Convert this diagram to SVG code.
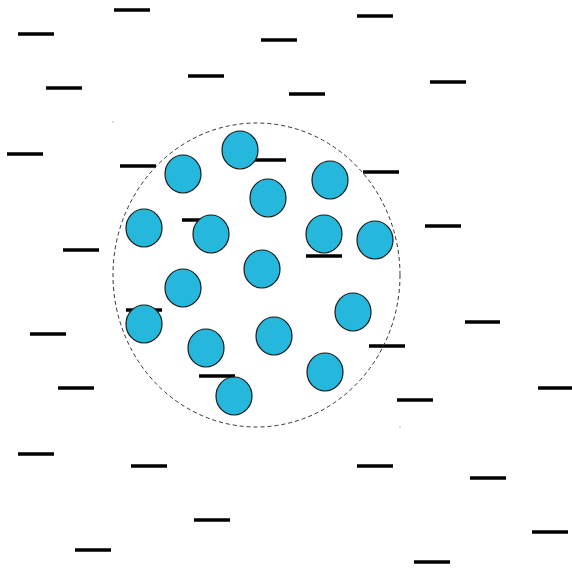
<svg xmlns="http://www.w3.org/2000/svg" width="572" height="569" viewBox="0 0 572 569">
<style>
.d{stroke:#000;stroke-width:3.5}
.c{fill:#25b8dc;stroke:#1a1a1a;stroke-width:1.2}
.b{fill:none;stroke:#333;stroke-width:1;stroke-dasharray:4 3}
.p{fill:#777}
</style>
<rect width="572" height="569" fill="#fff"/>
<g id="dashes">
<line class="d" x1="114" y1="10" x2="150" y2="10"/>
<line class="d" x1="18" y1="34" x2="54" y2="34"/>
<line class="d" x1="261" y1="40" x2="297" y2="40"/>
<line class="d" x1="357" y1="16" x2="393" y2="16"/>
<line class="d" x1="188" y1="76" x2="224" y2="76"/>
<line class="d" x1="46" y1="88" x2="82" y2="88"/>
<line class="d" x1="289" y1="94" x2="325" y2="94"/>
<line class="d" x1="430" y1="82" x2="466" y2="82"/>
<line class="d" x1="7" y1="154" x2="43" y2="154"/>
<line class="d" x1="120" y1="166" x2="156" y2="166"/>
<line class="d" x1="250" y1="160" x2="286" y2="160"/>
<line class="d" x1="363" y1="172" x2="399" y2="172"/>
<line class="d" x1="182" y1="220" x2="218" y2="220"/>
<line class="d" x1="306" y1="256" x2="342" y2="256"/>
<line class="d" x1="425" y1="226" x2="461" y2="226"/>
<line class="d" x1="63" y1="250" x2="99" y2="250"/>
<line class="d" x1="126" y1="310" x2="162" y2="310"/>
<line class="d" x1="30" y1="334" x2="66" y2="334"/>
<line class="d" x1="465" y1="322" x2="500" y2="322"/>
<line class="d" x1="369" y1="346" x2="405" y2="346"/>
<line class="d" x1="199" y1="376" x2="235" y2="376"/>
<line class="d" x1="58" y1="388" x2="94" y2="388"/>
<line class="d" x1="538" y1="388" x2="572" y2="388"/>
<line class="d" x1="397" y1="400" x2="433" y2="400"/>
<line class="d" x1="18" y1="454" x2="54" y2="454"/>
<line class="d" x1="131" y1="466" x2="167" y2="466"/>
<line class="d" x1="357" y1="466" x2="393" y2="466"/>
<line class="d" x1="470" y1="478" x2="506" y2="478"/>
<line class="d" x1="194" y1="520" x2="230" y2="520"/>
<line class="d" x1="532" y1="532" x2="568" y2="532"/>
<line class="d" x1="75" y1="550" x2="111" y2="550"/>
<line class="d" x1="414" y1="562" x2="450" y2="562"/>
</g>
<g id="boundary">
<ellipse class="b" cx="256.5" cy="275" rx="143.5" ry="152"/>
<rect class="p" x="112.5" y="121.5" width="1" height="1"/>
<rect class="p" x="399.5" y="426.5" width="1" height="1"/>
</g>
<g id="particles">
<ellipse class="c" cx="183" cy="174" rx="18" ry="19"/>
<ellipse class="c" cx="240" cy="150" rx="18" ry="19"/>
<ellipse class="c" cx="268" cy="198" rx="18" ry="19"/>
<ellipse class="c" cx="330" cy="180" rx="18" ry="19"/>
<ellipse class="c" cx="144" cy="228" rx="18" ry="19"/>
<ellipse class="c" cx="211" cy="234" rx="18" ry="19"/>
<ellipse class="c" cx="324" cy="234" rx="18" ry="19"/>
<ellipse class="c" cx="375" cy="240" rx="18" ry="19"/>
<ellipse class="c" cx="262" cy="269" rx="18" ry="19"/>
<ellipse class="c" cx="183" cy="288" rx="18" ry="19"/>
<ellipse class="c" cx="353" cy="312" rx="18" ry="19"/>
<ellipse class="c" cx="144" cy="324" rx="18" ry="19"/>
<ellipse class="c" cx="206" cy="348" rx="18" ry="19"/>
<ellipse class="c" cx="274" cy="336" rx="18" ry="19"/>
<ellipse class="c" cx="325" cy="372" rx="18" ry="19"/>
<ellipse class="c" cx="234" cy="396" rx="18" ry="19"/>
</g>
</svg>
